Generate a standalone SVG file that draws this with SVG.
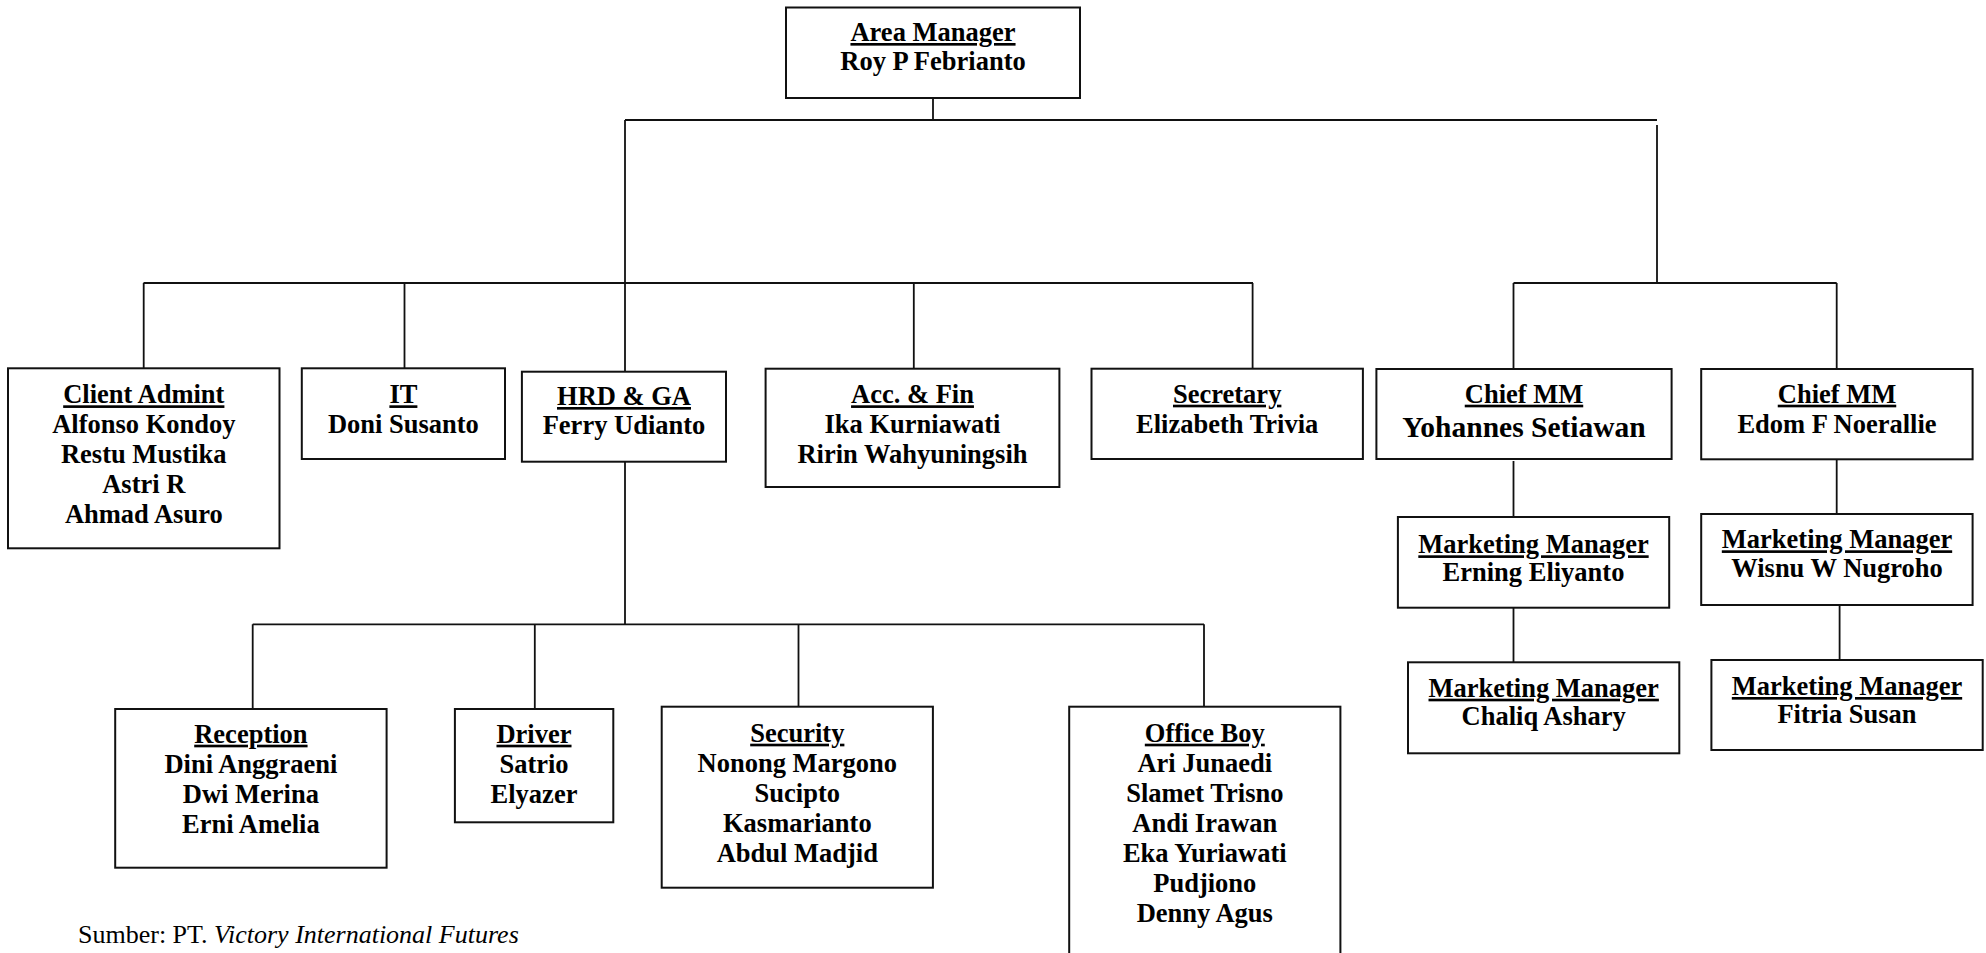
<svg xmlns="http://www.w3.org/2000/svg" width="1986" height="953" viewBox="0 0 1986 953">
<style>
  .box { fill: #ffffff; stroke: #111111; stroke-width: 2; }
  .ln { fill: none; stroke: #111111; stroke-width: 1.8; }
  text { font-family: "Liberation Serif", "Times New Roman", serif; fill: #000000; }
  .t { font-weight: bold; font-size: 26.5px; text-anchor: middle; }
  .h { text-decoration: underline; }
  .big { font-size: 29.5px; }
  .src { font-size: 26px; }
</style>
<rect width="1986" height="953" fill="#ffffff"/>
<g id="connectors">
  <path class="ln" d="M933 98 V120 M625 120 H1657 M1657 125 V283 M625 120 V372"/>
  <path class="ln" d="M143.5 283 H1253 M143.7 283 V368 M404.5 283 V368 M913.8 283 V369 M1252.6 283 V369"/>
  <path class="ln" d="M1513.5 283 H1836.7 M1513.5 283 V369 M1836.7 283 V369"/>
  <path class="ln" d="M1513.5 461 V517 M1513.5 608 V662 M1836.7 460 V514 M1839.6 606 V660"/>
  <path class="ln" d="M625 462 V624.3 M252.7 624.3 H1204 M252.7 624.3 V709 M534.8 624.3 V709 M798.5 624.3 V706.7 M1204 624.3 V706.7"/>
</g>
<g id="area-manager">
  <rect class="box" x="786" y="7.5" width="294" height="90.5"/>
  <text class="t h" x="933" y="41">Area Manager</text>
  <text class="t" x="933" y="70">Roy P Febrianto</text>
</g>
<g id="client-admint">
  <rect class="box" x="8" y="368.3" width="271.5" height="180"/>
  <text class="t h" x="143.8" y="403.3">Client Admint</text>
  <text class="t" x="143.8" y="433.3">Alfonso Kondoy</text>
  <text class="t" x="143.8" y="463.3">Restu Mustika</text>
  <text class="t" x="143.8" y="493.3">Astri R</text>
  <text class="t" x="143.8" y="523.3">Ahmad Asuro</text>
</g>
<g id="it">
  <rect class="box" x="301.8" y="368.3" width="203.2" height="90.7"/>
  <text class="t h" x="403.4" y="403.3">IT</text>
  <text class="t" x="403.4" y="432.7">Doni Susanto</text>
</g>
<g id="hrd-ga">
  <rect class="box" x="521.9" y="371.7" width="204.1" height="90"/>
  <text class="t h" x="624" y="405">HRD &amp; GA</text>
  <text class="t" x="624" y="434">Ferry Udianto</text>
</g>
<g id="acc-fin">
  <rect class="box" x="765.6" y="368.7" width="293.8" height="118.3"/>
  <text class="t h" x="912.5" y="403.3">Acc. &amp; Fin</text>
  <text class="t" x="912.5" y="432.7">Ika Kurniawati</text>
  <text class="t" x="912.5" y="462.7">Ririn Wahyuningsih</text>
</g>
<g id="secretary">
  <rect class="box" x="1091.5" y="368.7" width="271.4" height="90.3"/>
  <text class="t h" x="1227.2" y="402.7">Secretary</text>
  <text class="t" x="1227.2" y="432.7">Elizabeth Trivia</text>
</g>
<g id="chief-mm-1">
  <rect class="box" x="1376.4" y="369" width="295.2" height="90"/>
  <text class="t h" x="1524" y="402.7">Chief MM</text>
  <text class="t big" x="1524" y="436.7">Yohannes Setiawan</text>
</g>
<g id="chief-mm-2">
  <rect class="box" x="1701.2" y="369" width="271.4" height="90.3"/>
  <text class="t h" x="1837" y="402.7">Chief MM</text>
  <text class="t" x="1837" y="432.7">Edom F Noerallie</text>
</g>
<g id="mm-erning">
  <rect class="box" x="1397.9" y="517" width="271.3" height="90.7"/>
  <text class="t h" x="1533.5" y="553.3">Marketing Manager</text>
  <text class="t" x="1533.5" y="581">Erning Eliyanto</text>
</g>
<g id="mm-wisnu">
  <rect class="box" x="1701.2" y="514" width="271.4" height="91"/>
  <text class="t h" x="1837" y="548.3">Marketing Manager</text>
  <text class="t" x="1837" y="577.3">Wisnu W Nugroho</text>
</g>
<g id="mm-chaliq">
  <rect class="box" x="1408" y="662.3" width="271.3" height="91"/>
  <text class="t h" x="1543.7" y="696.7">Marketing Manager</text>
  <text class="t" x="1543.7" y="725">Chaliq Ashary</text>
</g>
<g id="mm-fitria">
  <rect class="box" x="1711.4" y="660" width="271.3" height="90"/>
  <text class="t h" x="1847" y="695">Marketing Manager</text>
  <text class="t" x="1847" y="723.3">Fitria Susan</text>
</g>
<g id="reception">
  <rect class="box" x="115.2" y="709" width="271.4" height="158.7"/>
  <text class="t h" x="250.9" y="742.7">Reception</text>
  <text class="t" x="250.9" y="772.7">Dini Anggraeni</text>
  <text class="t" x="250.9" y="802.7">Dwi Merina</text>
  <text class="t" x="250.9" y="833">Erni Amelia</text>
</g>
<g id="driver">
  <rect class="box" x="454.9" y="709" width="158.4" height="113.3"/>
  <text class="t h" x="534" y="742.7">Driver</text>
  <text class="t" x="534" y="772.7">Satrio</text>
  <text class="t" x="534" y="802.7">Elyazer</text>
</g>
<g id="security">
  <rect class="box" x="661.7" y="706.7" width="271.2" height="181"/>
  <text class="t h" x="797.3" y="741.7">Security</text>
  <text class="t" x="797.3" y="771.7">Nonong Margono</text>
  <text class="t" x="797.3" y="801.5">Sucipto</text>
  <text class="t" x="797.3" y="831.7">Kasmarianto</text>
  <text class="t" x="797.3" y="861.7">Abdul Madjid</text>
</g>
<g id="office-boy">
  <rect class="box" x="1069.2" y="706.7" width="271.2" height="260"/>
  <text class="t h" x="1204.8" y="741.7">Office Boy</text>
  <text class="t" x="1204.8" y="771.7">Ari Junaedi</text>
  <text class="t" x="1204.8" y="801.5">Slamet Trisno</text>
  <text class="t" x="1204.8" y="831.7">Andi Irawan</text>
  <text class="t" x="1204.8" y="861.7">Eka Yuriawati</text>
  <text class="t" x="1204.8" y="891.7">Pudjiono</text>
  <text class="t" x="1204.8" y="921.7">Denny Agus</text>
</g>
<text class="src" x="78" y="943">Sumber: PT. <tspan font-style="italic">Victory International Futures</tspan></text>
</svg>
